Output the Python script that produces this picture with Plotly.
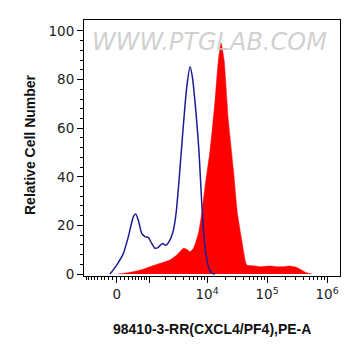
import numpy as np
import plotly.graph_objects as go

# Biexponential-like display transform (arcsinh), cofactor
COF = 625.0
def tr(v):
    v = np.asarray(v, dtype=float)
    return np.sign(v) * np.log10(np.abs(v) / COF + np.sqrt((v / COF) ** 2 + 1))

# Data, x in display (transformed) units
blue_x = [-0.112, 0.0, 0.111, 0.194, 0.278, 0.317, 0.361, 0.417, 0.472, 0.528, 0.583,
          0.639, 0.694, 0.761, 0.817, 0.872, 0.944, 0.989, 1.039, 1.1, 1.167, 1.222,
          1.261, 1.322, 1.372, 1.417, 1.472, 1.528, 1.583, 1.639]
blue_y = [0, 3.7, 8.5, 15.4, 23.6, 24.7, 22, 16.7, 15.4, 15, 12.6,
          10.6, 11, 12.6, 11.8, 13.3, 18, 25, 38.7, 58, 77, 85.3,
          81, 66, 50, 29, 11, 3, 0.4, 0]

red_x = [0.028, 0.167, 0.389, 0.556, 0.722, 0.889, 1.0, 1.111, 1.167, 1.222, 1.278,
         1.361, 1.417, 1.472, 1.556, 1.639, 1.694, 1.739, 1.789, 1.861, 1.944,
         2.011, 2.083, 2.167, 2.278, 2.389, 2.556, 2.667, 2.778, 2.889, 3.0,
         3.083, 3.167, 3.25]
red_y = [0, 0.5, 1.6, 3, 4.4, 5.8, 7.8, 10.6, 10.2, 9.2, 10.6,
         16.7, 25, 36, 51, 71.6, 88, 95, 88, 63, 43,
         25, 14, 3.7, 3.4, 3, 3.3, 3, 3, 3.3, 2.7,
         1.6, 0.5, 0]

x_tick_values = [0, 1e4, 1e5, 1e6]
x_tick_labels = ["0", "10<sup>4</sup>", "10<sup>5</sup>", "10<sup>6</sup>"]
y_tick_values = [0, 20, 40, 60, 80, 100]

minor_raw = [-m for m in range(100, 1000, 100)] + \
            [m for m in range(100, 1000, 100)] + \
            [k * 10 ** d for d in (3, 4, 5) for k in range(2, 10)]
major_unlabeled = [1e3]

fig = go.Figure()
fig.add_trace(go.Scatter(x=red_x, y=red_y, mode="lines", fill="tozeroy",
                         line=dict(color="#ff0000", width=0.5, shape="spline", smoothing=0.5),
                         fillcolor="#ff0000", hoverinfo="skip"))
fig.add_trace(go.Scatter(x=blue_x, y=blue_y, mode="lines",
                         line=dict(color="#1c1c96", width=1.5, shape="spline", smoothing=0.6),
                         hoverinfo="skip"))

xt = list(tr(x_tick_values)) + list(tr(major_unlabeled))
xl = x_tick_labels + [""]

tickfont = dict(size=13.5, color="#222222", family="DejaVu Sans, sans-serif")
titlefont = dict(size=14, color="#111111", family="Liberation Sans, Arial, sans-serif")

fig.update_layout(
    width=361, height=356,
    margin=dict(l=76, r=29, t=12, b=88),
    paper_bgcolor="white", plot_bgcolor="white",
    showlegend=False,
    font=dict(family="Liberation Sans, Arial, sans-serif", color="#222222"),
    xaxis=dict(range=[-0.545, 3.72], tickmode="array", tickvals=xt, ticktext=xl,
               ticks="outside", ticklen=6, tickwidth=1, tickcolor="black",
               showline=True, linecolor="black", linewidth=1, mirror=True,
               showgrid=False, zeroline=False, automargin=False,
               tickfont=tickfont,
               minor=dict(tickmode="array", tickvals=list(tr(minor_raw)),
                          ticks="outside", ticklen=3, tickcolor="black", showgrid=False)),
    yaxis=dict(range=[-0.8, 104.5], tickmode="array", tickvals=y_tick_values,
               ticks="outside", ticklen=6, tickwidth=1, tickcolor="black",
               showline=True, linecolor="black", linewidth=1, mirror=True,
               showgrid=False, zeroline=False, automargin=False,
               tickfont=tickfont,
               minor=dict(tickmode="array", tickvals=[v for v in range(4, 104, 4) if v % 20],
                          ticks="outside", ticklen=3, tickcolor="black", showgrid=False)),
)

# axis titles
fig.add_annotation(text="<b>98410-3-RR(CXCL4/PF4),PE-A</b>", xref="paper", yref="paper",
                   x=(212 - 84) / 256, y=-(329 - 276) / 256, showarrow=False,
                   xanchor="center", yanchor="middle", font=titlefont)
fig.add_annotation(text="<b>Relative Cell Number</b>", xref="paper", yref="paper",
                   x=-(84 - 30) / 256, y=(276 - 145) / 256, showarrow=False, textangle=-90,
                   xanchor="center", yanchor="middle", font=titlefont)

# watermark
fig.add_annotation(text="<i>WWW.PTGLAB.COM</i>", xref="paper", yref="paper",
                   x=(209 - 84) / 256, y=(276 - 42) / 256, showarrow=False,
                   xanchor="center", yanchor="middle",
                   font=dict(size=24, color="rgba(200,200,200,0.85)",
                             family="DejaVu Sans, sans-serif"))

fig.write_html("out.html")
